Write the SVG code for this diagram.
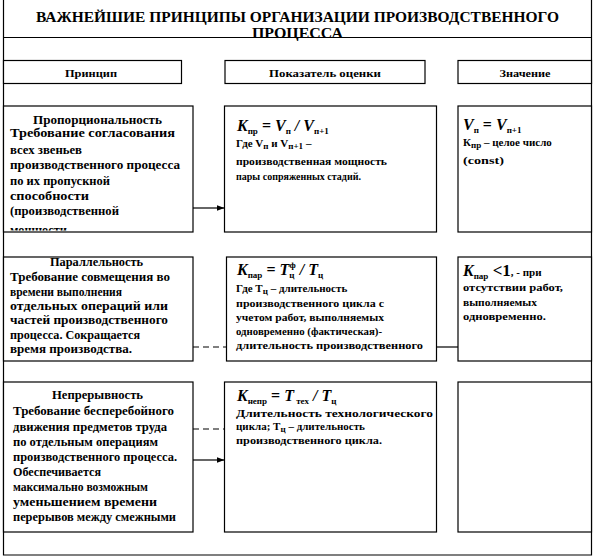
<svg xmlns="http://www.w3.org/2000/svg" width="595" height="558" viewBox="0 0 595 558">
<style>
.t{font-family:"Liberation Serif","DejaVu Serif","Times New Roman",serif;font-weight:bold;fill:#000}
.b{fill:#fff;stroke:#000;stroke-width:1.2}
.ln{fill:none;stroke:#000;stroke-width:1.2}
.dash{stroke-dasharray:6 4}
.l{font-size:12px}
.lb{font-size:13.5px}
.m{font-size:11px}
.f{font-size:16px}
.i{font-style:italic}
.s{font-size:9px}
</style>
<defs>
<marker id="ah" markerWidth="8" markerHeight="6" refX="8" refY="3" orient="auto" markerUnits="userSpaceOnUse">
<path d="M0,0 L8,3 L0,6 Z" fill="#000"/>
</marker>
<clipPath id="c1"><rect x="3" y="106" width="190" height="124.5"/></clipPath>
</defs>
<rect width="595" height="558" fill="#fff"/>
<g id="frame">
<path class="ln" d="M3.5,0 V555 H591.5 V0"/>
<line class="ln" x1="3.5" y1="37.5" x2="591.5" y2="37.5"/>
</g>
<g id="title">
<text class="t" x="297.5" y="22" text-anchor="middle" font-size="14.5" textLength="523" lengthAdjust="spacingAndGlyphs">ВАЖНЕЙШИЕ ПРИНЦИПЫ ОРГАНИЗАЦИИ ПРОИЗВОДСТВЕННОГО</text>
<text class="t" x="297.5" y="38" text-anchor="middle" font-size="14.5" textLength="91" lengthAdjust="spacingAndGlyphs">ПРОЦЕССА</text>
</g>
<g id="h-principle">
<rect class="b" x="3.5" y="60.5" width="178" height="23"/>
<text class="t m" x="91" y="77" text-anchor="middle" textLength="52" lengthAdjust="spacingAndGlyphs">Принцип</text>
</g>
<g id="h-indicator">
<rect class="b" x="225" y="60.5" width="200" height="23"/>
<text class="t m" x="325" y="77" text-anchor="middle" textLength="112" lengthAdjust="spacingAndGlyphs">Показатель   оценки</text>
</g>
<g id="h-value">
<rect class="b" x="458" y="60.5" width="133.5" height="23"/>
<text class="t m" x="525" y="77" text-anchor="middle" textLength="51" lengthAdjust="spacingAndGlyphs">Значение</text>
</g>

<g id="r1-principle">
<rect class="b" x="3.5" y="106" width="189.5" height="126"/>
<g clip-path="url(#c1)">
<text class="t l" x="97.5" y="123.5" text-anchor="middle" textLength="129" lengthAdjust="spacingAndGlyphs">Пропорциональность</text>
<text class="t lb" x="10" y="137" textLength="165" lengthAdjust="spacingAndGlyphs">Требование согласования</text>
<text class="t l" x="10" y="153.5" textLength="72" lengthAdjust="spacingAndGlyphs">всех звеньев</text>
<text class="t l" x="10" y="169" textLength="170" lengthAdjust="spacingAndGlyphs">производственного процесса</text>
<text class="t l" x="10" y="184.5" textLength="100" lengthAdjust="spacingAndGlyphs">по их пропускной</text>
<text class="t l" x="10" y="200" textLength="79" lengthAdjust="spacingAndGlyphs">способности</text>
<text class="t l" x="10" y="214.5" textLength="109" lengthAdjust="spacingAndGlyphs">(производственной</text>
<text class="t l" x="10" y="233.5" textLength="57" lengthAdjust="spacingAndGlyphs">мощности</text>
</g>
</g>
<g id="r1-indicator">
<rect class="b" x="224.5" y="106" width="212" height="126"/>
<text class="t f" x="237" y="131"><tspan class="i">K</tspan><tspan class="s" dy="3">пр</tspan><tspan dy="-3"> = </tspan><tspan class="i">V</tspan><tspan class="s" dy="3">п</tspan><tspan dy="-3" class="i"> / </tspan><tspan class="i">V</tspan><tspan class="s" dy="3">п+1</tspan></text>
<text class="t m" x="236" y="147">Где V<tspan class="s" dy="2">п</tspan><tspan dy="-2"> и V</tspan><tspan class="s" dy="2">п+1</tspan><tspan dy="-2"> –</tspan></text>
<text class="t m" x="236" y="164.5" textLength="151" lengthAdjust="spacingAndGlyphs">производственная мощность</text>
<text class="t m" x="236" y="179.5" textLength="125" lengthAdjust="spacingAndGlyphs">пары сопряженных стадий.</text>
</g>
<g id="r1-value">
<rect class="b" x="458" y="106" width="133.5" height="126"/>
<text class="t f" x="463" y="130"><tspan class="i">V</tspan><tspan class="s" dy="3">п</tspan><tspan dy="-3"> = </tspan><tspan class="i">V</tspan><tspan class="s" dy="3">п+1</tspan></text>
<text class="t m" x="463" y="146">К<tspan class="s" dy="2">пр</tspan><tspan dy="-2"> – целое число</tspan></text>
<text class="t m" x="463" y="163.5" textLength="41" lengthAdjust="spacingAndGlyphs">(const)</text>
</g>

<g id="r2-principle">
<rect class="b" x="3.5" y="257" width="189.5" height="104"/>
<text class="t l" x="96.5" y="266" text-anchor="middle" textLength="93" lengthAdjust="spacingAndGlyphs">Параллельность</text>
<text class="t lb" x="10" y="281" textLength="160" lengthAdjust="spacingAndGlyphs">Требование совмещения во</text>
<text class="t l" x="10" y="295.5" textLength="112" lengthAdjust="spacingAndGlyphs">времени выполнения</text>
<text class="t l" x="10" y="310" textLength="158" lengthAdjust="spacingAndGlyphs">отдельных  операций или</text>
<text class="t l" x="10" y="324" textLength="158" lengthAdjust="spacingAndGlyphs">частей производственного</text>
<text class="t l" x="10" y="338.5" textLength="130" lengthAdjust="spacingAndGlyphs">процесса. Сокращается</text>
<text class="t l" x="10" y="352.5" textLength="122" lengthAdjust="spacingAndGlyphs">время производства.</text>
</g>
<g id="r2-indicator">
<rect class="b" x="226.5" y="257" width="210" height="104"/>
<text class="t f" x="237" y="275"><tspan class="i">K</tspan><tspan class="s" dy="3">пар</tspan><tspan dy="-3"> = </tspan><tspan class="i">T</tspan><tspan class="s" dy="3">ц</tspan><tspan class="s" dx="-5" dy="-10">ф</tspan><tspan class="i" dy="7"> / </tspan><tspan class="i">T</tspan><tspan class="s" dy="3">ц</tspan></text>
<text class="t m" x="236" y="291.5">Где Т<tspan class="s" dy="2">ц</tspan><tspan dy="-2"> – длительность</tspan></text>
<text class="t m" x="236" y="306.5" textLength="148" lengthAdjust="spacingAndGlyphs">производственного цикла  с</text>
<text class="t m" x="236" y="320.5" textLength="148" lengthAdjust="spacingAndGlyphs">учетом работ, выполняемых</text>
<text class="t m" x="236" y="334.5" textLength="146" lengthAdjust="spacingAndGlyphs">одновременно (фактическая)-</text>
<text class="t m" x="236" y="348.5" textLength="187" lengthAdjust="spacingAndGlyphs">длительность  производственного</text>
</g>
<g id="r2-value">
<rect class="b" x="458" y="257" width="133.5" height="104"/>
<text class="t f" x="463" y="276"><tspan class="i">K</tspan><tspan class="s" dy="3">пар</tspan><tspan dy="-3" font-size="17"> &lt;1</tspan><tspan class="m">, - при</tspan></text>
<text class="t m" x="463" y="291" textLength="100" lengthAdjust="spacingAndGlyphs">отсутствии работ,</text>
<text class="t m" x="463" y="305.5" textLength="74" lengthAdjust="spacingAndGlyphs">выполняемых</text>
<text class="t m" x="463" y="320" textLength="83" lengthAdjust="spacingAndGlyphs">одновременно.</text>
</g>

<g id="r3-principle">
<rect class="b" x="3.5" y="382" width="189.5" height="150"/>
<text class="t l" x="97.5" y="399" text-anchor="middle" textLength="91" lengthAdjust="spacingAndGlyphs">Непрерывность</text>
<text class="t lb" x="13" y="414.5" textLength="161" lengthAdjust="spacingAndGlyphs">Требование бесперебойного</text>
<text class="t l" x="13" y="430.5" textLength="154" lengthAdjust="spacingAndGlyphs">движения предметов труда</text>
<text class="t l" x="13" y="445.5" textLength="145" lengthAdjust="spacingAndGlyphs">по отдельным операциям</text>
<text class="t l" x="13" y="460.5" textLength="164" lengthAdjust="spacingAndGlyphs">производственного процесса.</text>
<text class="t l" x="13" y="475.5" textLength="88" lengthAdjust="spacingAndGlyphs">Обеспечивается</text>
<text class="t l" x="13" y="490.5" textLength="135" lengthAdjust="spacingAndGlyphs">максимально возможным</text>
<text class="t l" x="13" y="505.5" textLength="144" lengthAdjust="spacingAndGlyphs">уменьшением времени</text>
<text class="t l" x="13" y="520.5" textLength="163" lengthAdjust="spacingAndGlyphs">перерывов между смежными</text>
</g>
<g id="r3-indicator">
<rect class="b" x="224.5" y="382" width="212" height="150"/>
<text class="t f" x="237" y="401"><tspan class="i">K</tspan><tspan class="s" dy="3">непр</tspan><tspan dy="-3"> = </tspan><tspan class="i">T</tspan><tspan class="s" dy="3"> тех</tspan><tspan class="i" dy="-3"> / </tspan><tspan class="i">T</tspan><tspan class="s" dy="3">ц</tspan></text>
<text class="t m" x="236" y="416.5" textLength="197" lengthAdjust="spacingAndGlyphs">Длительность  технологического</text>
<text class="t m" x="236" y="430">цикла; Т<tspan class="s" dy="2">ц</tspan><tspan dy="-2"> – длительность</tspan></text>
<text class="t m" x="236" y="444" textLength="146" lengthAdjust="spacingAndGlyphs">производственного  цикла.</text>
</g>
<g id="r3-value">
<rect class="b" x="458" y="382" width="133.5" height="150"/>
</g>

<g id="connectors">
<line class="ln" x1="193" y1="208" x2="224.5" y2="208" marker-end="url(#ah)"/>
<line class="ln dash" x1="193" y1="347" x2="226.5" y2="347"/>
<line class="ln" x1="436.5" y1="347" x2="458" y2="347"/>
<line class="ln dash" x1="193" y1="429" x2="224.5" y2="429"/>
<line class="ln" x1="193" y1="460" x2="224.5" y2="460" marker-end="url(#ah)"/>
</g>
</svg>
